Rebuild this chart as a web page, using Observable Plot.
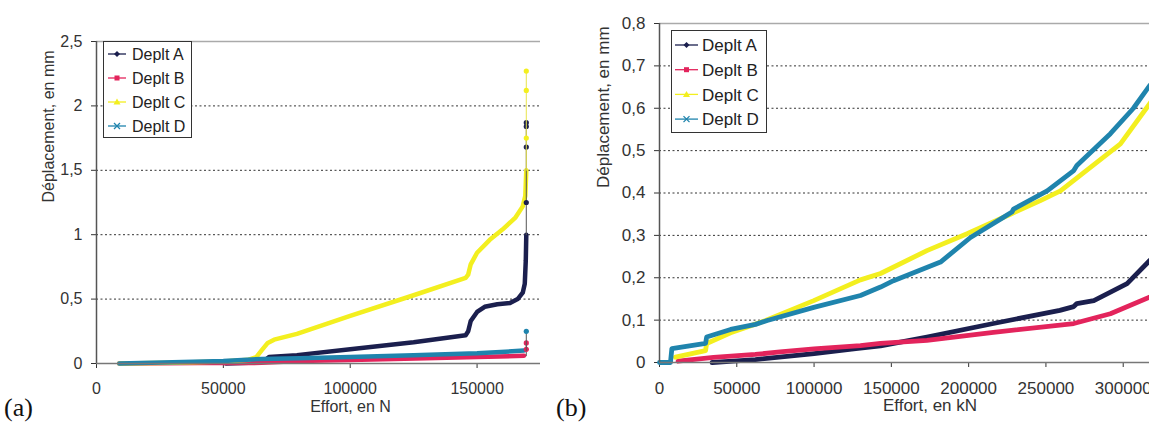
<!DOCTYPE html>
<html>
<head>
<meta charset="utf-8">
<script src="https://cdn.jsdelivr.net/npm/d3@7"></script>
<script src="https://cdn.jsdelivr.net/npm/@observablehq/plot@0.6"></script>
<style>
  html, body { margin: 0; padding: 0; background: #fff; }
  body { width: 1149px; height: 426px; overflow: hidden; position: relative; font-family: "Liberation Sans", Arial, sans-serif; }
  .panel { position: absolute; top: 0; }
  .panel svg { max-width: none !important; }
  .tag { position: absolute; font-family: "Liberation Serif", "Times New Roman", serif; font-size: 26px; color: #111; }
  .legend { position: absolute; background: #fff; border: 1px solid #333; box-sizing: border-box; }
</style>
</head>
<body>
<div id="pa" class="panel" style="left:0px; width:560px; height:426px"></div>
<div id="pb" class="panel" style="left:580px; width:630px; height:426px"></div>
<div class="tag" style="left:4px; top:393px">(a)</div>
<div class="tag" style="left:556px; top:393px">(b)</div>
<script>
// ---------- series ----------
const seriesNames = ["Deplt A", "Deplt B", "Deplt C", "Deplt D"];
const seriesColors = ["#1b1f4e", "#e3245c", "#f3ef1f", "#1f84ad"];

// ---------- panel (a): Effort (N) vs Déplacement (mm) ----------
const aTicksX = [0, 50000, 100000, 150000];
const aTicksY = [0, 0.5, 1, 1.5, 2, 2.5];
const aGrid = [0.5, 1, 1.5, 2];
const aA = [[51000,0],[60000,0.005],[66000,0.02],[68000,0.05],[79000,0.065],[100000,0.11],[125000,0.165],[145500,0.22],[146500,0.25],[147500,0.33],[150000,0.4],[153000,0.44],[158000,0.46],[163000,0.47],[166000,0.5],[168000,0.55],[168800,0.62],[169200,0.8],[169400,1.0]];
const aB = [[9000,0],[40000,0.003],[65000,0.005],[80000,0.02],[100000,0.028],[130000,0.04],[150000,0.05],[168500,0.06]];
const aC = [[9000,0],[30000,0.005],[50000,0.015],[60000,0.03],[63000,0.05],[65000,0.1],[67500,0.16],[70000,0.185],[79000,0.23],[100000,0.37],[125000,0.53],[145500,0.665],[146500,0.69],[147500,0.77],[150000,0.86],[155000,0.96],[160000,1.04],[165000,1.13],[168000,1.22],[169000,1.3],[169400,1.5]];
const aD = [[9000,0],[30000,0.01],[50000,0.02],[65000,0.035],[80000,0.04],[100000,0.05],[125000,0.065],[150000,0.08],[168500,0.1]];
const aSpikeA = [[169400,1.0],[169400,1.25],[169400,1.68],[169400,1.84],[169400,1.87]];
const aSpikeB = [[169400,0.06],[169400,0.11],[169400,0.16]];
const aSpikeC = [[169400,1.5],[169400,1.75],[169400,2.12],[169400,2.27]];
const aSpikeD = [[169400,0.1],[169400,0.25]];

// ---------- panel (b): Effort (kN) vs Déplacement (mm) ----------
const bTicksX = [0, 50000, 100000, 150000, 200000, 250000, 300000];
const bTicksY = [0, 0.1, 0.2, 0.3, 0.4, 0.5, 0.6, 0.7, 0.8];
const bGrid = [0.1, 0.2, 0.3, 0.4, 0.5, 0.6, 0.7];
const bA = [[34000,0],[50000,0.004],[62000,0.007],[100000,0.021],[127000,0.033],[143000,0.039],[173000,0.06],[216000,0.092],[259000,0.123],[268000,0.132],[270000,0.139],[281000,0.146],[302500,0.186],[317000,0.24],[320000,0.252]];
const bB = [[12000,0.003],[35000,0.012],[62000,0.019],[78000,0.025],[100000,0.032],[130000,0.04],[143000,0.045],[173000,0.052],[216000,0.071],[268000,0.092],[291700,0.115],[317000,0.154],[320000,0.16]];
const bC = [[10300,0.0125],[29800,0.028],[30500,0.045],[46000,0.07],[68600,0.099],[99800,0.146],[130000,0.195],[143000,0.21],[173000,0.264],[199000,0.304],[227000,0.35],[246400,0.382],[259400,0.405],[298200,0.516],[317000,0.61],[320000,0.625]];
const bD = [[0,0],[7100,0],[8000,0.033],[29800,0.045],[30500,0.06],[46000,0.078],[62100,0.09],[69700,0.099],[99800,0.13],[130000,0.158],[143000,0.178],[151400,0.193],[181800,0.237],[201200,0.295],[222700,0.343],[228000,0.355],[229000,0.362],[250800,0.405],[268000,0.453],[270000,0.465],[291700,0.54],[306600,0.60],[317000,0.653],[320000,0.665]];

const fmtY = d => String(d).replace(".", ",");
const fmtX = d => String(d);

const rows = (arr) => arr.map(([x, y]) => ({x, y}));

function seriesMarks(list, width) {
  const marks = [];
  list.forEach((arr, i) => {
    marks.push(Plot.line(rows(arr), {x: "x", y: "y", stroke: seriesColors[i], strokeWidth: width, strokeLinejoin: "round", strokeLinecap: "round"}));
  });
  return marks;
}
function spikeMarks(list) {
  const marks = [];
  list.forEach((arr, i) => {
    marks.push(Plot.line(rows(arr), {x: "x", y: "y", stroke: i === 2 ? "#e8e44a" : "#555", strokeWidth: 1}));
    marks.push(Plot.dot(rows(arr).slice(1), {x: "x", y: "y", r: 2.6, fill: seriesColors[i], stroke: "none"}));
  });
  return marks;
}

const baseStyle = {fontFamily: "'Liberation Sans', Arial, sans-serif", fontSize: "16px", color: "#333", background: "transparent", overflow: "visible", maxWidth: "none"};

const chartA = Plot.plot({
  width: 560, height: 426,
  marginLeft: 96, marginRight: 20, marginTop: 41, marginBottom: 63,
  style: baseStyle,
  x: {domain: [0, 175000], ticks: aTicksX, tickFormat: fmtX, label: null, tickSize: 5, tickPadding: 14},
  y: {domain: [0, 2.5], ticks: aTicksY, tickFormat: fmtY, label: null, tickSize: 5, tickPadding: 9},
  marks: [
    Plot.ruleY(aGrid, {stroke: "#333", strokeDasharray: "2,2.5", strokeWidth: 1}),
    Plot.ruleY([2.5], {stroke: "#aaa", strokeWidth: 1.5}),
    ...seriesMarks([aA, aB, aC, aD], 4.5),
    ...spikeMarks([aSpikeA, aSpikeB, aSpikeC, aSpikeD]),
    Plot.ruleX([0], {stroke: "#555", strokeWidth: 1.5}),
    Plot.ruleY([0], {stroke: "#777", strokeWidth: 1.5}),
    Plot.text(["Effort, en N"], {frameAnchor: "bottom", dx: 32, dy: 48, fontSize: 16, fill: "#333"}),
    Plot.text(["Déplacement, en mm"], {frameAnchor: "left", rotate: -90, dx: -48, fontSize: 16, fill: "#333"})
  ]
});
document.getElementById("pa").appendChild(chartA);

const chartB = Plot.plot({
  width: 630, height: 426,
  marginLeft: 79, marginRight: 10, marginTop: 23, marginBottom: 64,
  style: {...baseStyle, fontSize: "17px"},
  x: {domain: [0, 350000], ticks: bTicksX, tickFormat: fmtX, label: null, tickSize: 5, tickPadding: 14},
  y: {domain: [0, 0.8], ticks: bTicksY, tickFormat: fmtY, label: null, tickSize: 5, tickPadding: 9},
  marks: [
    Plot.ruleY(bGrid, {stroke: "#333", strokeDasharray: "2,2.5", strokeWidth: 1}),
    Plot.ruleY([0.8], {stroke: "#aaa", strokeWidth: 1.5}),
    ...seriesMarks([bA, bB, bC, bD], 4.8),
    Plot.ruleX([0], {stroke: "#555", strokeWidth: 1.5}),
    Plot.ruleY([0], {stroke: "#777", strokeWidth: 1.5}),
    Plot.text(["Effort, en kN"], {frameAnchor: "bottom", dx: 0, dy: 48, fontSize: 17, fill: "#333"}),
    Plot.text(["Déplacement, en mm"], {frameAnchor: "left", rotate: -90, dx: -56, dy: -5, fontSize: 17, fill: "#333"})
  ]
});
document.getElementById("pb").appendChild(chartB);

// ---------- legends ----------
function markerSvg(i, cx, cy, c) {
  if (i === 0) return `<path d="M${cx},${cy-3} L${cx+3},${cy} L${cx},${cy+3} L${cx-3},${cy} Z" fill="${c}"/>`;
  if (i === 1) return `<rect x="${cx-2.5}" y="${cy-2.5}" width="5" height="5" fill="${c}"/>`;
  if (i === 2) return `<path d="M${cx},${cy-3.5} L${cx+3.5},${cy+2.5} L${cx-3.5},${cy+2.5} Z" fill="${c}"/>`;
  return `<path d="M${cx-3},${cy-3} L${cx+3},${cy+3} M${cx+3},${cy-3} L${cx-3},${cy+3}" stroke="${c}" stroke-width="1.3"/>`;
}
function makeLegend(left, top, w, h, y0, dy, x1, x2, tx, fs) {
  const div = document.createElement("div");
  div.className = "legend";
  Object.assign(div.style, {left: left + "px", top: top + "px", width: w + "px", height: h + "px"});
  let s = `<svg width="${w-2}" height="${h-2}" style="position:absolute;left:0;top:0">`;
  seriesNames.forEach((n, i) => {
    const y = y0 + dy * i;
    const c = seriesColors[i];
    s += `<line x1="${x1}" x2="${x2}" y1="${y}" y2="${y}" stroke="${c}" stroke-width="1.3"/>`;
    s += markerSvg(i, (x1 + x2) / 2, y, c);
    s += `<text x="${tx}" y="${y}" dy="0.36em" font-size="${fs}" fill="#222" font-family="'Liberation Sans', Arial, sans-serif">${n}</text>`;
  });
  s += `</svg>`;
  div.innerHTML = s;
  document.body.appendChild(div);
}
makeLegend(103, 41, 89, 97, 12, 24, 4, 22, 28, 16);
makeLegend(671, 30, 96, 103, 14, 24.7, 3, 26, 30, 17);
</script>
</body>
</html>
